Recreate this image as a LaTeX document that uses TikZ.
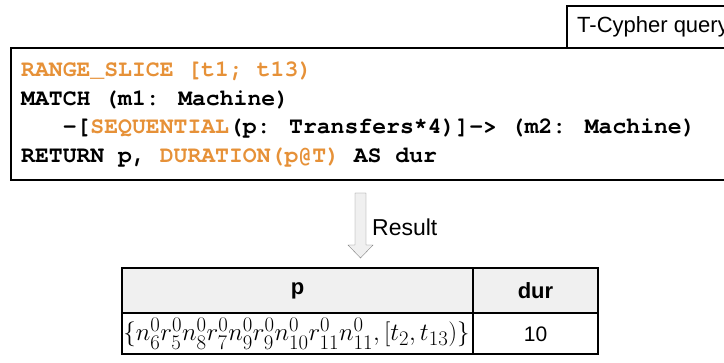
\documentclass[tikz,border=0pt]{standalone}
\usepackage{amsmath}
\usepackage{amssymb}
\usepackage{fontspec}
\setmainfont{Liberation Sans}
\newfontfamily\codefont{TeX Gyre Cursor}
\usetikzlibrary{positioning}
\definecolor{kwOrange}{RGB}{230,145,56}

\begin{document}
\begin{tikzpicture}[x=1pt, y=-1pt,
    code/.style={anchor=base west, inner sep=0pt,
      font=\codefont\bfseries\fontsize{23.1}{28}\selectfont},
    cell/.style={inner sep=0pt, font=\fontsize{21}{25}\selectfont}]
    \useasboundingbox (0, 0) rectangle (724, 363);

    % query box and its tag
    \draw[line width=1.4pt, fill=white] (567, 6) rectangle (745, 48);
    \node[anchor=west, inner sep=0pt, font=\fontsize{22}{26}\selectfont]
      (tag) at (577, 27) {T-Cypher query};
    \draw[line width=1.6pt] (11, 48) rectangle (745, 180);

    \node[code, text=kwOrange] (l1) at (21, 77) {RANGE\_SLICE [t1; t13)};
    \node[code] (l2) at (21, 106) {MATCH (m1: Machine)};
    \node[code] (l3) at (21, 134)
      {\hspace*{1.8em}-[\textcolor{kwOrange}{SEQUENTIAL}(p: Transfers*4)]-> (m2: Machine)};
    \node[code] (l4) at (21, 163)
      {RETURN p, \textcolor{kwOrange}{DURATION(p@T)} AS dur};

    % result arrow
    \coordinate (arr) at (360.5, 193);
    \draw[gray, thin, fill=gray!12]
      (355, 193) -- (366, 193) -- (366, 245) -- (373, 245)
      -- (360.5, 258) -- (348, 245) -- (355, 245) -- cycle;
    \node[anchor=west, inner sep=0pt, font=\fontsize{23}{27}\selectfont]
      (res) at (372, 227) {Result};

    % result table
    \fill[gray!12] (122, 268) rectangle (598, 313);
    \draw[line width=1.6pt] (122, 268) rectangle (598, 354);
    \draw[line width=1.4pt] (122, 313) -- (598, 313);
    \draw[line width=1.4pt] (473, 268) -- (473, 354);

    \node[cell, font=\fontsize{22}{26}\selectfont\bfseries] (hp) at (297.5, 291) {p};
    \node[cell, font=\fontsize{22}{26}\selectfont\bfseries] (hdur) at (535.5, 291) {dur};
    \node[cell, font=\fontsize{27.5}{32}\selectfont] (vp) at (296.5, 334)
      {$\{n^0_6r^0_5n^0_8r^0_7n^0_9r^0_9n^0_{10}r^0_{11}n^0_{11},[t_2,t_{13})\}$};
    \node[cell] (vdur) at (535.5, 334) {10};
\end{tikzpicture}
\end{document}
